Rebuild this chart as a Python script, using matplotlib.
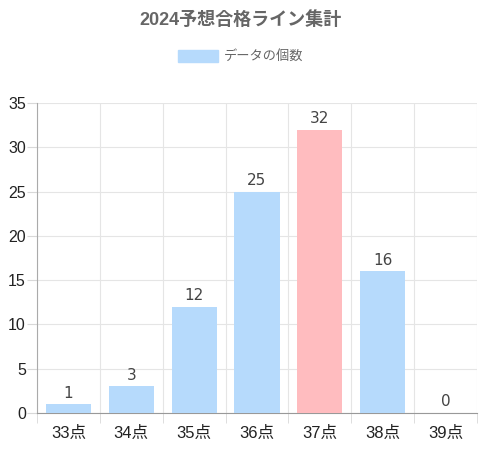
import matplotlib.pyplot as plt

plt.rcParams['font.family'] = ['Liberation Sans', 'Noto Sans CJK JP']

labels = ['33点', '34点', '35点', '36点', '37点', '38点', '39点']
counts = [1, 3, 12, 25, 32, 16, 0]
highlight = '37点'
y_ticks = [0, 5, 10, 15, 20, 25, 30, 35]

blue = '#b6dafc'
red = '#ffbcbf'
colors = [red if lab == highlight else blue for lab in labels]

fig = plt.figure(figsize=(4.8, 4.5), dpi=100)
ax = fig.add_axes([37 / 480, 37 / 450, 440 / 480, 310 / 450])

x = list(range(len(labels)))
bars = ax.bar(x, counts, width=0.72, color=colors, zorder=3)

# value labels on top of bars
for xi, v in zip(x, counts):
    ax.text(xi, v + 0.4, str(v), ha='center', va='bottom', fontsize=11,
            color='#444444', family='DejaVu Sans', zorder=4)

ax.set_xlim(-0.5, len(labels) - 0.5)
ax.set_ylim(0, 35)
ax.set_yticks(y_ticks)
ax.set_xticks(x)
ax.set_xticklabels(labels)
ax.set_xticks([i - 0.5 for i in range(len(labels) + 1)], minor=True)

ax.grid(axis='y', color='#e5e5e5', linewidth=0.8, zorder=0)
ax.grid(axis='x', which='minor', color='#e5e5e5', linewidth=0.8, zorder=0)
ax.tick_params(axis='x', which='major', length=0, labelsize=12, labelcolor='#222222', pad=9)
ax.tick_params(axis='x', which='minor', length=7, color='#d8d8d8')
ax.tick_params(axis='y', length=7, color='#d8d8d8', labelsize=11.5, labelcolor='#222222', pad=1)

for side in ['top', 'right']:
    ax.spines[side].set_visible(False)
ax.spines['left'].set_color('#aaaaaa')
ax.spines['bottom'].set_color('#999999')

fig.text(0.5, 1 - 20 / 450, '2024予想合格ライン集計', ha='center', va='center',
         fontsize=13, fontweight='bold', color='#666666')

lx0, ly = 178 / 480, 1 - 56 / 450
fig.patches.append(plt.Rectangle((lx0, ly - 6 / 450), 40 / 480, 12 / 450,
                                 transform=fig.transFigure, color=blue, figure=fig))
fig.text(224 / 480, ly, 'データの個数', ha='left', va='center', fontsize=9.5, color='#666666')

fig.savefig('out.png', dpi=100)
